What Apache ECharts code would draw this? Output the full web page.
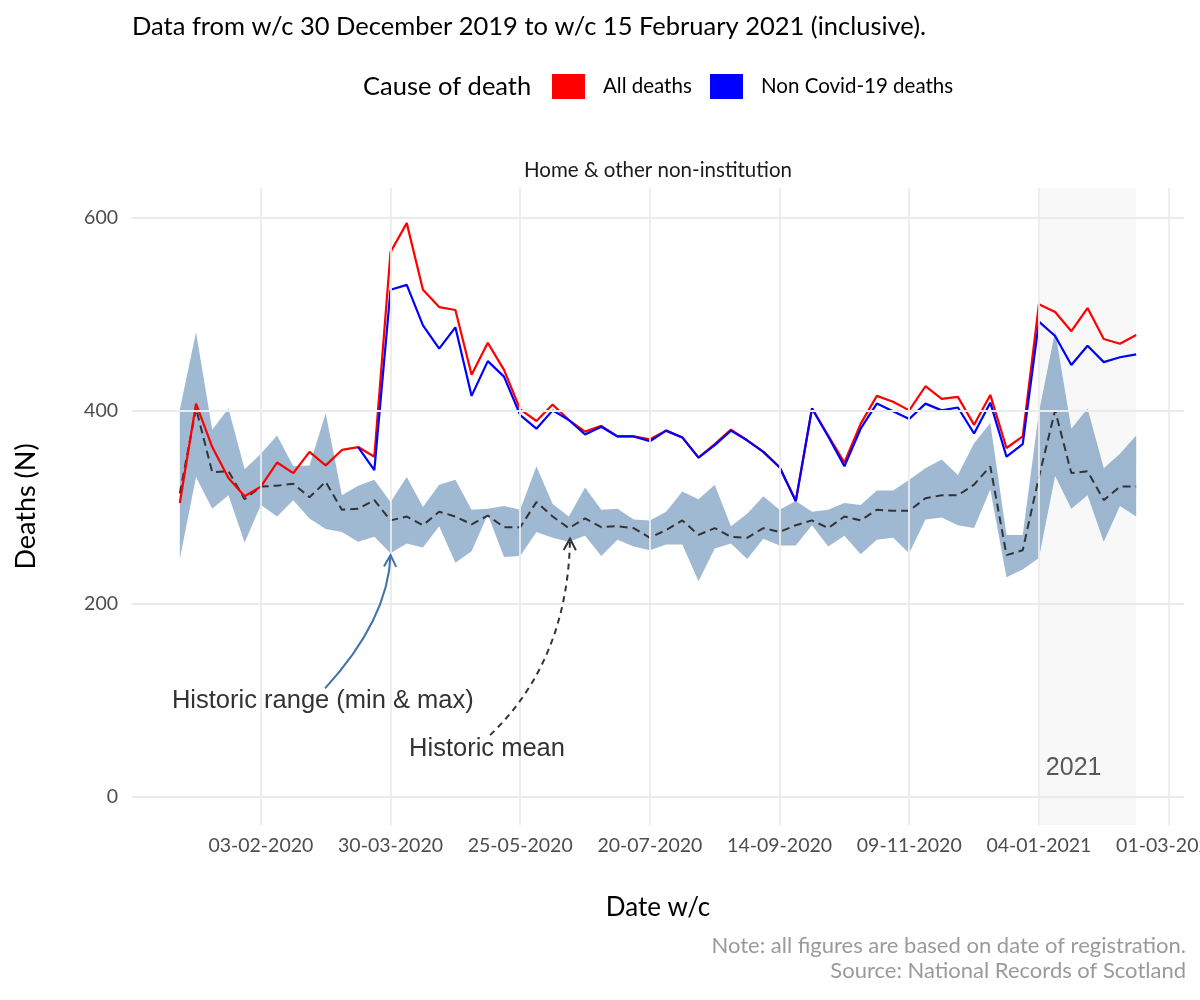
<!DOCTYPE html>
<html>
<head>
<meta charset="utf-8">
<title>Home &amp; other non-institution deaths</title>
<script src="https://cdn.jsdelivr.net/npm/echarts@6/dist/echarts.min.js"></script>
<style>
	html, body { margin: 0; padding: 0; background: #fff; }
	#main { width: 1200px; height: 1000px; }
</style>
</head>
<body>
<div id="main"></div>
<script>
// weeks commencing, one point per week from the first one
var firstWeek = '2019-12-30';
var weekCount = 60;
var xTickDates = ['2020-02-03', '2020-03-30', '2020-05-25', '2020-07-20', '2020-09-14', '2020-11-09', '2021-01-04', '2021-03-01'];
var yTicks = [0, 200, 400, 600];
var period2021 = ['2021-01-04', '2021-02-15'];

var allDeaths = [304, 407, 362, 330, 311, 321, 346, 335, 357, 343,
	359, 362, 352, 564, 594, 525, 507, 504, 437, 470,
	442, 401, 389, 406, 390, 378, 384, 373, 373, 370,
	379, 372, 351, 365, 380, 369, 357, 341, 306, 402,
	374, 346, 386, 415, 409, 400, 425, 412, 414, 385,
	416, 361, 373, 510, 502, 482, 506, 474, 469, 478];
var nonCovidDeaths = [null, null, null, null, null, null, null, null, null, null,
	null, 362, 338, 525, 530, 488, 464, 486, 415, 451,
	435, 395, 381, 400, 390, 375, 383, 373, 373, 368,
	379, 372, 351, 364, 379, 369, 357, 341, 306, 402,
	373, 342, 381, 407, 399, 391, 407, 400, 403, 376,
	408, 352, 365, 492, 477, 447, 467, 450, 455, 458];
var historicMean = [314, 402, 336, 337, 308, 321, 322, 324, 310, 326,
	297, 298, 307, 286, 290, 281, 295, 290, 282, 291,
	279, 279, 305, 290, 278, 288, 279, 280, 278, 268,
	276, 286, 271, 278, 269, 268, 278, 274, 281, 286,
	278, 290, 286, 297, 296, 296, 309, 312, 312, 323,
	342, 250, 255, 331, 400, 335, 337, 307, 321, 321];
var historicMin = [246, 331, 298, 312, 263, 302, 290, 307, 288, 277,
	274, 264, 269, 252, 262, 258, 280, 242, 254, 292,
	248, 249, 274, 268, 264, 270, 249, 266, 259, 255,
	261, 261, 223, 257, 262, 246, 267, 260, 260, 281,
	259, 270, 251, 266, 268, 252, 287, 289, 281, 278,
	318, 227, 235, 247, 332, 298, 312, 264, 301, 290];
var historicMax = [401, 481, 380, 402, 339, 355, 374, 342, 343, 397,
	312, 322, 328, 305, 331, 300, 323, 328, 297, 298,
	301, 297, 342, 303, 290, 320, 297, 298, 287, 286,
	295, 316, 308, 323, 280, 293, 311, 297, 306, 295,
	297, 304, 302, 317, 317, 328, 340, 349, 333, 366,
	387, 271, 271, 398, 482, 381, 402, 340, 355, 374];

var DAY = 86400000;
var base = Date.parse(firstWeek);

function dayOf(s) {
	return (Date.parse(s) - base) / DAY;
}

function pad(n) {
	return n < 10 ? '0' + n : '' + n;
}

function dateLabel(d) {
	var t = new Date(base + Math.round(d) * DAY);
	return pad(t.getUTCDate()) + '-' + pad(t.getUTCMonth() + 1) + '-' + t.getUTCFullYear();
}

// [day, value] pairs, weeks without a value left out
function pairs(values) {
	var out = [];
	for(var i = 0; i < weekCount; i++) {
		if(values[i] != null) out.push([i * 7, values[i]]);
	}
	return out;
}

var bandRows = historicMin.map(function(v, i) {
	return [i * 7, v, historicMax[i]];
});

var font = 'Lato, "Open Sans", sans-serif';
var annoFont = '"Liberation Sans", Arial, sans-serif';

// annotation texts, placed in data units (days, deaths)
var notes = [
	{ at: [-3.4, 99], text: 'Historic range (min & max)', color: '#333333', size: 25.5, align: 'left' },
	{ at: [99, 49], text: 'Historic mean', color: '#333333', size: 25.5, align: 'left' },
	{ at: [386, 29], text: '2021', color: '#595959', size: 25, align: 'center' }
];

function arrow(from, ctrl, to, color, dashed) {
	return {
		type: 'custom',
		silent: true,
		clip: false,
		z: 6,
		data: [[from[0], from[1], ctrl[0], ctrl[1], to[0], to[1]]],
		encode: { x: [0, 2, 4], y: [1, 3, 5] },
		renderItem: function(params, api) {
			var p0 = api.coord([api.value(0), api.value(1)]);
			var c = api.coord([api.value(2), api.value(3)]);
			var p1 = api.coord([api.value(4), api.value(5)]);
			var dx = p1[0] - c[0], dy = p1[1] - c[1];
			var len = Math.sqrt(dx * dx + dy * dy);
			dx /= len;
			dy /= len;
			var head = 13, ang = 28 * Math.PI / 180;
			function arm(s) {
				var ca = Math.cos(s * ang), sa = Math.sin(s * ang);
				return [p1[0] - head * (dx * ca - dy * sa), p1[1] - head * (dx * sa + dy * ca)];
			}
			return {
				type: 'group',
				children: [{
					type: 'bezierCurve',
					shape: { x1: p0[0], y1: p0[1], cpx1: c[0], cpy1: c[1], x2: p1[0], y2: p1[1] },
					style: { fill: 'none', stroke: color, lineWidth: 2, lineDash: dashed ? [6, 5] : null }
				}, {
					type: 'polyline',
					shape: { points: [arm(1), p1, arm(-1)] },
					style: { fill: 'none', stroke: color, lineWidth: 2 }
				}]
			};
		}
	};
}

var chart = echarts.init(document.getElementById('main'));

var option = {
	animation: false,
	backgroundColor: '#ffffff',
	title: [{
		text: 'Data from w/c 30 December 2019 to w/c 15 February 2021 (inclusive).',
		left: 132,
		top: 14,
		padding: 0,
		textStyle: { fontFamily: font, fontSize: 25.5, fontWeight: 'normal', color: '#000' }
	}, {
		text: 'Cause of death',
		left: 363,
		top: 74,
		padding: 0,
		textStyle: { fontFamily: font, fontSize: 25.5, fontWeight: 'normal', color: '#000' }
	}, {
		text: 'Note: all figures are based on date of registration.',
		right: 14,
		top: 935,
		padding: 0,
		textStyle: { fontFamily: font, fontSize: 22, fontWeight: 'normal', color: '#9a9a9a' }
	}, {
		text: 'Source: National Records of Scotland',
		right: 14,
		top: 960,
		padding: 0,
		textStyle: { fontFamily: font, fontSize: 22, fontWeight: 'normal', color: '#9a9a9a' }
	}],
	graphic: [{
		// facet strip label, centred over the panel
		type: 'text',
		x: 658,
		y: 170,
		style: {
			text: 'Home & other non-institution',
			align: 'center',
			verticalAlign: 'middle',
			fontFamily: font,
			fontSize: 20.5,
			fill: '#1a1a1a'
		}
	}],
	legend: [{
		data: ['All deaths'],
		left: 552,
		top: 74,
		padding: 0,
		icon: 'rect',
		itemWidth: 33,
		itemHeight: 25,
		selectedMode: false,
		textStyle: { fontFamily: font, fontSize: 20.5, color: '#000', padding: [0, 0, 0, 13] }
	}, {
		data: ['Non Covid-19 deaths'],
		left: 710,
		top: 74,
		padding: 0,
		icon: 'rect',
		itemWidth: 33,
		itemHeight: 25,
		selectedMode: false,
		textStyle: { fontFamily: font, fontSize: 20.5, color: '#000', padding: [0, 0, 0, 13] }
	}],
	grid: {
		left: 132,
		right: 16,
		top: 188,
		bottom: 175,
		containLabel: false,
		outerBoundsMode: 'none'
	},
	xAxis: {
		type: 'value',
		min: -20.65,
		max: 433.65,
		name: 'Date w/c',
		nameLocation: 'middle',
		nameGap: 70,
		nameTextStyle: { fontFamily: font, fontSize: 26, color: '#000' },
		axisLine: { show: false },
		axisTick: { show: false },
		splitLine: { show: false },
		axisLabel: {
			customValues: xTickDates.map(dayOf),
			formatter: dateLabel,
			margin: 11,
			fontFamily: font,
			fontSize: 19.5,
			color: '#4d4d4d'
		}
	},
	yAxis: {
		type: 'value',
		min: -29.6,
		max: 630.4,
		name: 'Deaths (N)',
		nameLocation: 'middle',
		nameGap: 92,
		nameTextStyle: { fontFamily: font, fontSize: 27, color: '#000' },
		axisLine: { show: false },
		axisTick: { show: false },
		splitLine: { show: false },
		axisLabel: {
			customValues: yTicks,
			margin: 14,
			fontFamily: font,
			fontSize: 19.5,
			color: '#4d4d4d'
		}
	},
	series: [{
		// 2021 shading
		type: 'line',
		data: [],
		silent: true,
		z: 0,
		markArea: {
			silent: true,
			itemStyle: { color: '#f8f8f8', opacity: 1 },
			data: [[{ xAxis: dayOf(period2021[0]) }, { xAxis: dayOf(period2021[1]) }]]
		}
	}, {
		// grid lines
		type: 'line',
		data: [],
		silent: true,
		z: 1,
		markLine: {
			silent: true,
			symbol: ['none', 'none'],
			label: { show: false },
			lineStyle: { color: '#ebebeb', width: 1.8, type: 'solid' },
			data: xTickDates.map(function(s) {
				return { xAxis: dayOf(s) };
			}).concat(yTicks.map(function(v) {
				return { yAxis: v };
			}))
		}
	}, {
		// historic min-max ribbon, one polygon through all weeks
		name: 'Historic range',
		type: 'custom',
		silent: true,
		z: 2,
		data: bandRows,
		encode: { x: 0, y: [1, 2] },
		renderItem: function(params, api) {
			if(params.dataIndexInside !== 0) return null;
			var n = params.dataInsideLength;
			var top = [], bottom = [];
			for(var j = 0; j < n; j++) {
				top.push(api.coord([api.value(0, j), api.value(2, j)]));
				bottom.unshift(api.coord([api.value(0, j), api.value(1, j)]));
			}
			return {
				type: 'polygon',
				shape: { points: top.concat(bottom) },
				style: { fill: 'rgba(70,120,170,0.52)' }
			};
		}
	}, {
		name: 'Historic mean',
		type: 'line',
		data: pairs(historicMean),
		showSymbol: false,
		z: 3,
		itemStyle: { color: '#333333' },
		lineStyle: { color: '#333333', width: 2, type: [8, 5] }
	}, {
		name: 'All deaths',
		type: 'line',
		data: pairs(allDeaths),
		showSymbol: false,
		z: 4,
		itemStyle: { color: '#ff0000' },
		lineStyle: { color: '#ff0000', width: 2.2 }
	}, {
		name: 'Non Covid-19 deaths',
		type: 'line',
		data: pairs(nonCovidDeaths),
		showSymbol: false,
		z: 4,
		itemStyle: { color: '#0000ff' },
		lineStyle: { color: '#0000ff', width: 2.2 }
	},
	arrow([62.7, 112], [89.9, 183], [91, 250], '#4274a6', false),
	arrow([134, 63.5], [167.6, 141], [168.5, 267], '#333333', true),
	{
		type: 'custom',
		silent: true,
		clip: false,
		z: 6,
		data: notes.map(function(n) {
			return n.at;
		}),
		renderItem: function(params, api) {
			var p = api.coord([api.value(0), api.value(1)]);
			var n = notes[params.dataIndex];
			return {
				type: 'text',
				x: p[0],
				y: p[1],
				style: {
					text: n.text,
					fill: n.color,
					fontFamily: annoFont,
					fontSize: n.size,
					align: n.align,
					verticalAlign: 'middle'
				}
			};
		}
	}]
};

chart.setOption(option);
window.onresize = function() {
	chart.resize();
};
</script>
</body>
</html>
